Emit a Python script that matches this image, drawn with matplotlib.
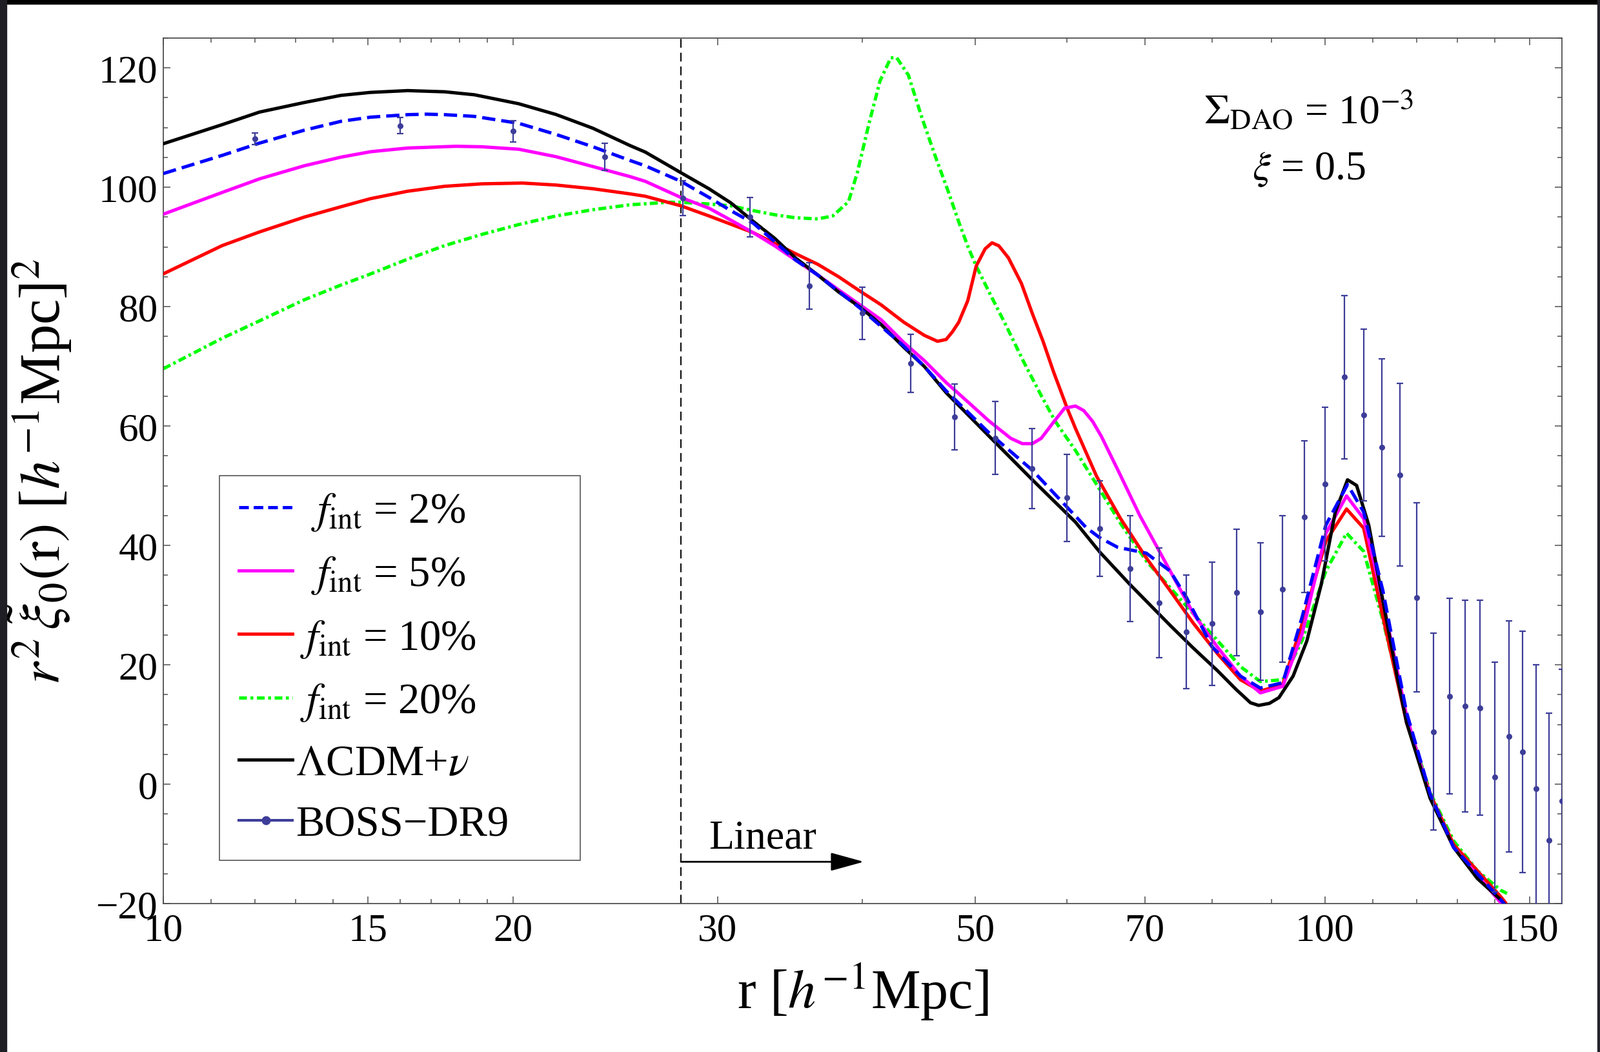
import matplotlib
matplotlib.use("Agg")
import matplotlib.pyplot as plt
from matplotlib.lines import Line2D
from matplotlib.patches import Rectangle
from matplotlib.ticker import FixedLocator, NullFormatter, FixedFormatter

plt.rcParams['font.family'] = ['Liberation Serif', 'DejaVu Serif']
plt.rcParams['mathtext.fontset'] = 'stix'

# ---------------- data ----------------
r_lcdm = [10.0, 11.24, 12.1, 13.22, 14.22, 15.08, 16.23, 17.47, 18.53, 20.23, 21.78, 23.43,
          25.22, 26.0, 27.9, 29.5, 30.8, 32.2, 33.6, 35.0, 36.6, 38.15, 39.8, 41.5, 43.4,
          45.2, 47.2, 51.4, 56.0, 61.0, 64.0, 68.0, 73.6, 77.0, 80.8, 83.9, 86.3, 87.7,
          89.6, 91.3, 93.9, 96.5, 99.3, 102.1, 104.6, 106.5, 109.1, 112.2, 115.4, 117.6,
          120.9, 123.2, 129.1, 135.3, 141.8, 143.0]
y_lcdm = [107.3, 110.5, 112.6, 114.2, 115.4, 115.9, 116.2, 116.0, 115.5, 114.0, 112.2, 109.9,
          107.0, 105.9, 102.45, 99.75, 97.4, 94.3, 91.45, 88.2, 85.3, 82.45, 79.9, 77.0, 73.2,
          70.0, 65.6, 58.3, 51.0, 43.9, 38.9, 33.4, 26.6, 22.85, 19.05, 15.85, 13.64, 13.2,
          13.54, 14.5, 18.1, 24.0, 33.5, 45.6, 51.0, 50.05, 43.4, 30.7, 18.1, 10.3,
          2.8, -2.35, -10.6, -15.8, -19.4, -20.2]

r_f2 = [10.0, 11.24, 12.1, 13.22, 14.22, 15.08, 16.23, 16.84, 17.47, 18.53, 20.23, 21.78,
        23.43, 25.22, 26.0, 27.9, 29.5, 30.8, 32.2, 33.6, 35.0, 36.6, 39.8, 43.4, 45.2, 47.2,
        51.4, 56.0, 60.0, 62.3, 64.0, 66.3, 70.2, 73.6, 76.0, 80.0, 84.6, 88.0, 92.0, 95.6,
        100.2, 104.6, 108.0, 112.2, 117.6, 123.3, 129.1, 141.8, 143.0]
y_f2 = [102.3, 105.35, 107.4, 109.56, 111.05, 111.75, 112.17, 112.25, 112.17, 111.88, 110.72,
        108.86, 106.8, 104.5, 103.6, 101.0, 98.3, 96.1, 94.0, 90.9, 87.85, 85.3, 79.75, 73.4,
        70.0, 65.9, 58.85, 52.6, 46.4, 43.0, 41.3, 39.7, 38.7, 35.7, 31.3, 23.0, 18.1, 16.1,
        17.0, 28.0, 43.4, 50.2, 45.6, 32.4, 12.0, -1.8, -10.6, -19.4, -20.3]

r_f5 = [10.0, 11.24, 12.1, 13.22, 14.22, 15.08, 16.23, 17.86, 18.8, 20.23, 21.78, 23.43, 25.22,
        26.0, 27.9, 29.5, 30.8, 32.2, 33.6, 35.0, 36.6, 38.15, 39.8, 41.5, 43.4, 45.24, 47.2,
        49.27, 51.4, 53.65, 54.9, 56.0, 57.0, 58.4, 59.7, 61.0, 62.0, 63.1, 64.2, 66.4, 69.3,
        73.6, 77.1, 80.8, 84.6, 88.0, 92.0, 95.6, 100.2, 104.4, 108.0, 112.2, 117.6, 123.3,
        129.1, 141.8, 143.0]
y_f5 = [95.5, 99.14, 101.41, 103.6, 105.05, 105.96, 106.58, 106.87, 106.79, 106.38, 105.13,
        103.48, 101.8, 101.0, 98.3, 96.5, 94.5, 92.4, 90.2, 87.85, 85.3, 82.8, 80.3, 77.8, 74.0,
        70.9, 67.3, 64.07, 60.83, 57.95, 57.05, 57.05, 57.95, 60.65, 63.0, 63.35, 62.6, 60.8,
        58.3, 52.5, 45.0, 35.7, 28.5, 23.0, 18.1, 15.3, 16.4, 25.2, 42.0, 48.3, 44.5, 30.7,
        11.4, -2.35, -10.6, -19.9, -20.6]

r_f10 = [10.0, 11.24, 12.1, 13.22, 14.22, 15.08, 16.23, 17.47, 18.8, 20.38, 21.78, 23.43, 25.22,
         26.0, 27.9, 29.5, 32.2, 35.0, 36.6, 38.15, 39.8, 41.5, 43.4, 45.2, 46.4, 47.2, 47.8,
         48.4, 49.27, 50.1, 51.0, 51.7, 52.4, 53.4, 54.8, 56.0, 57.2, 58.4, 60.0, 61.0, 63.6,
         66.7, 70.2, 73.6, 77.1, 80.8, 84.6, 88.0, 92.0, 95.6, 100.2, 104.4, 108.0, 112.2,
         117.6, 123.3, 129.1, 141.8, 143.0]
y_f10 = [85.5, 90.24, 92.52, 95.0, 96.74, 98.1, 99.34, 100.17, 100.58, 100.71, 100.38, 99.76,
         98.9, 98.5, 96.9, 95.2, 92.4, 88.9, 87.1, 85.0, 82.6, 80.3, 77.4, 75.2, 74.2, 74.5,
         75.8, 77.4, 81.0, 86.8, 89.7, 90.7, 90.2, 88.2, 83.9, 78.85, 74.2, 69.1, 63.0, 59.6,
         51.6, 44.5, 37.9, 32.4, 26.9, 21.9, 17.5, 15.6, 16.7, 26.9, 40.7, 46.1, 42.9, 28.0,
         10.3, -1.8, -10.1, -18.9, -19.8]

r_f20 = [10.0, 11.24, 12.1, 13.22, 14.22, 15.08, 16.23, 17.47, 18.8, 20.23, 21.78, 23.43, 25.22,
         27.14, 27.9, 29.5, 30.8, 32.2, 33.6, 35.0, 36.6, 37.7, 38.9, 39.6, 40.5, 41.4, 42.3,
         42.8, 43.8, 45.0, 46.2, 47.3, 48.4, 49.3, 50.1, 51.4, 53.2, 55.1, 57.0, 58.6, 61.0,
         63.8, 66.7, 70.2, 73.6, 77.1, 80.8, 84.6, 88.0, 92.0, 95.6, 100.2, 104.4, 108.0,
         112.2, 117.6, 123.3, 129.1, 135.3, 141.8, 143.5]
y_f20 = [69.6, 74.72, 77.62, 81.14, 83.62, 85.48, 87.96, 90.24, 92.1, 93.76, 95.2, 96.24, 97.07,
         97.48, 97.5, 97.2, 96.9, 96.1, 95.4, 94.9, 94.7, 95.2, 97.6, 102.6, 110.6, 117.8,
         121.7, 121.7, 118.8, 111.6, 105.2, 99.8, 94.2, 90.0, 86.8, 82.45, 76.7, 70.6, 65.1,
         60.8, 55.9, 49.8, 43.7, 37.4, 32.9, 28.5, 24.1, 19.7, 17.2, 17.5, 24.1, 35.7, 42.05,
         39.0, 27.5, 11.0, -1.5, -9.5, -14.5, -17.8, -18.3]

r_boss = [12, 16, 20, 24, 28, 32, 36, 40, 44, 48, 52, 56, 60, 64, 68, 72, 76, 80, 84, 88,
          92, 96, 100, 104, 108, 112, 116, 120, 124, 128, 132, 136, 140, 144, 148, 152, 156, 160]
y_boss = [108.15, 110.3, 109.4, 105.1, 98.2, 95.0, 83.5, 78.9, 70.5, 61.5, 58.0, 52.9, 48.0,
          42.8, 36.15, 30.4, 25.5, 26.9, 32.1, 28.9, 32.7, 44.8, 50.3, 68.2, 61.85, 56.4, 51.8,
          31.3, 8.8, 14.75, 13.1, 12.8, 1.2, 8.0, 5.4, -0.7, -9.4, -2.8]
e_boss = [1.0, 1.35, 1.8, 2.25, 2.9, 3.3, 3.9, 4.35, 4.85, 5.5, 6.1, 6.7, 7.3, 8.0, 8.85, 9.2,
          9.5, 10.3, 10.6, 11.5, 12.3, 12.7, 12.9, 13.7, 14.35, 14.9, 15.3, 15.8, 16.5, 16.4,
          17.7, 18.0, 19.2, 19.4, 20.2, 20.7, 21.3, 22.0]

labels = ["  $f_{\\rm int}$ = 2%", "  $f_{\\rm int}$ = 5%",
          " $f_{\\rm int}$ = 10%", " $f_{\\rm int}$ = 20%",
          "$\\Lambda$CDM+$\\nu$", "BOSS\u2212DR9"]

x_major = [10, 15, 20, 30, 50, 70, 100, 150]
x_minor = [11, 12, 13, 14, 16, 17, 18, 19, 40, 60, 80, 90, 110, 120, 130, 140]
y_major = [-20, 0, 20, 40, 60, 80, 100, 120]
y_minor = list(range(-20, 126, 5))

r_linear = 27.9
r_arrow_end = 40.1

# ---------------- figure ----------------
W, H = 2479, 1631
fig = plt.figure(figsize=(W / 100, H / 100), dpi=100)
ax = fig.add_axes([253 / W, 1 - 1401 / H, (2420 - 253) / W, (1401 - 60) / H])

lw = 3.7
c_data = '#3d3d99'
ax.plot(r_f20, y_f20, color='#00ff00', lw=lw, dashes=(2.4, 1.0, 0.8, 1.0), zorder=2)
ax.plot(r_f10, y_f10, color='#ff0000', lw=lw, zorder=3)
ax.plot(r_f5, y_f5, color='#ff00ff', lw=lw, zorder=3)
ax.plot(r_lcdm, y_lcdm, color='black', lw=lw, zorder=3)
ax.plot(r_f2, y_f2, color='#0000ff', lw=lw, dashes=(4.0, 1.8), zorder=4)
ax.errorbar(r_boss, y_boss, yerr=e_boss, fmt='o', color=c_data, ms=5.5,
            elinewidth=1.6, capsize=3.6, capthick=1.6, zorder=5)

ax.axvline(r_linear, color='black', lw=1.4, dashes=(7, 4), zorder=1)
ax.annotate('', xy=(r_arrow_end, -13), xytext=(r_linear, -13),
            arrowprops=dict(arrowstyle='-|>,head_length=2.0,head_width=0.55',
                            mutation_scale=16, color='black', lw=2.0,
                            shrinkA=0, shrinkB=0))
ax.text(29.5, -10.7, 'Linear', fontsize=46, ha='left', va='baseline')

ax.text(0.819, 0.9016, "$\\Sigma_{\\rm DAO}$ = 10$^{-3}$", transform=ax.transAxes,
        fontsize=46, ha='center', va='baseline')
ax.text(0.819, 0.8374, "$\\xi$ = 0.5", transform=ax.transAxes,
        fontsize=46, ha='center', va='baseline')

ax.set_xscale('log')
ax.set_xlim(10, 160)
ax.set_ylim(-20, 125)

ax.xaxis.set_major_locator(FixedLocator(x_major))
ax.xaxis.set_major_formatter(FixedFormatter([str(v) for v in x_major]))
ax.xaxis.set_minor_locator(FixedLocator(x_minor))
ax.xaxis.set_minor_formatter(NullFormatter())
ax.yaxis.set_major_locator(FixedLocator(y_major))
ax.yaxis.set_minor_locator(FixedLocator(y_minor))

frame_c = '#505050'
for s in ax.spines.values():
    s.set_color(frame_c)
    s.set_linewidth(1.3)
ax.tick_params(which='both', direction='in', top=True, right=True, color=frame_c,
               width=1.1, labelsize=44)
ax.tick_params(which='major', length=8)
ax.tick_params(which='minor', length=5)
ax.tick_params(axis='x', which='major', pad=10)
ax.tick_params(axis='y', which='major', pad=6)

ax.set_xlabel("r [$h^{-1}$Mpc]", fontsize=62)
ax.xaxis.set_label_coords(0.5, -0.066)
ax.set_ylabel("$r^2\\,\\tilde{\\xi}_0(\\mathrm{r})$ [$h^{-1}$Mpc]$^2$", fontsize=64)
ax.yaxis.set_label_coords(-0.064, 0.5)

# legend frame drawn at the reference position
ax.add_patch(Rectangle((0.04015, 0.04996), 0.258, 0.4444, transform=ax.transAxes,
                       facecolor='white', edgecolor='#555555', lw=1.2, zorder=6))

handles = [Line2D([], [], color='#0000ff', lw=3.6, dashes=(3.0, 1.5)),
           Line2D([], [], color='#ff00ff', lw=3.6),
           Line2D([], [], color='#ff0000', lw=3.6),
           Line2D([], [], color='#00ff00', lw=3.6, dashes=(2.4, 1.1, 0.9, 1.1)),
           Line2D([], [], color='black', lw=3.6),
           Line2D([], [], color=c_data, lw=3.0, marker='o', ms=9)]
leg = ax.legend(handles, labels, loc='center left', bbox_to_anchor=(0.054, 0.2726),
                bbox_transform=ax.transAxes, borderaxespad=0, borderpad=0, fontsize=48,
                frameon=False, handlelength=1.245, handletextpad=0.08,
                labelspacing=0.5, numpoints=1)
leg.set_zorder(7)

# dark border strips of the original picture
fig.patches.append(Rectangle((0, 1 - 7 / H), 1, 7 / H, transform=fig.transFigure,
                             color='black', zorder=10))
fig.patches.append(Rectangle((0, 0), 10 / W, 1, transform=fig.transFigure,
                             color='#1e1e24', zorder=10))
fig.patches.append(Rectangle((1 - 4 / W, 0), 4 / W, 1, transform=fig.transFigure,
                             color='#24242c', zorder=10))

fig.savefig('out.png', dpi=100)
